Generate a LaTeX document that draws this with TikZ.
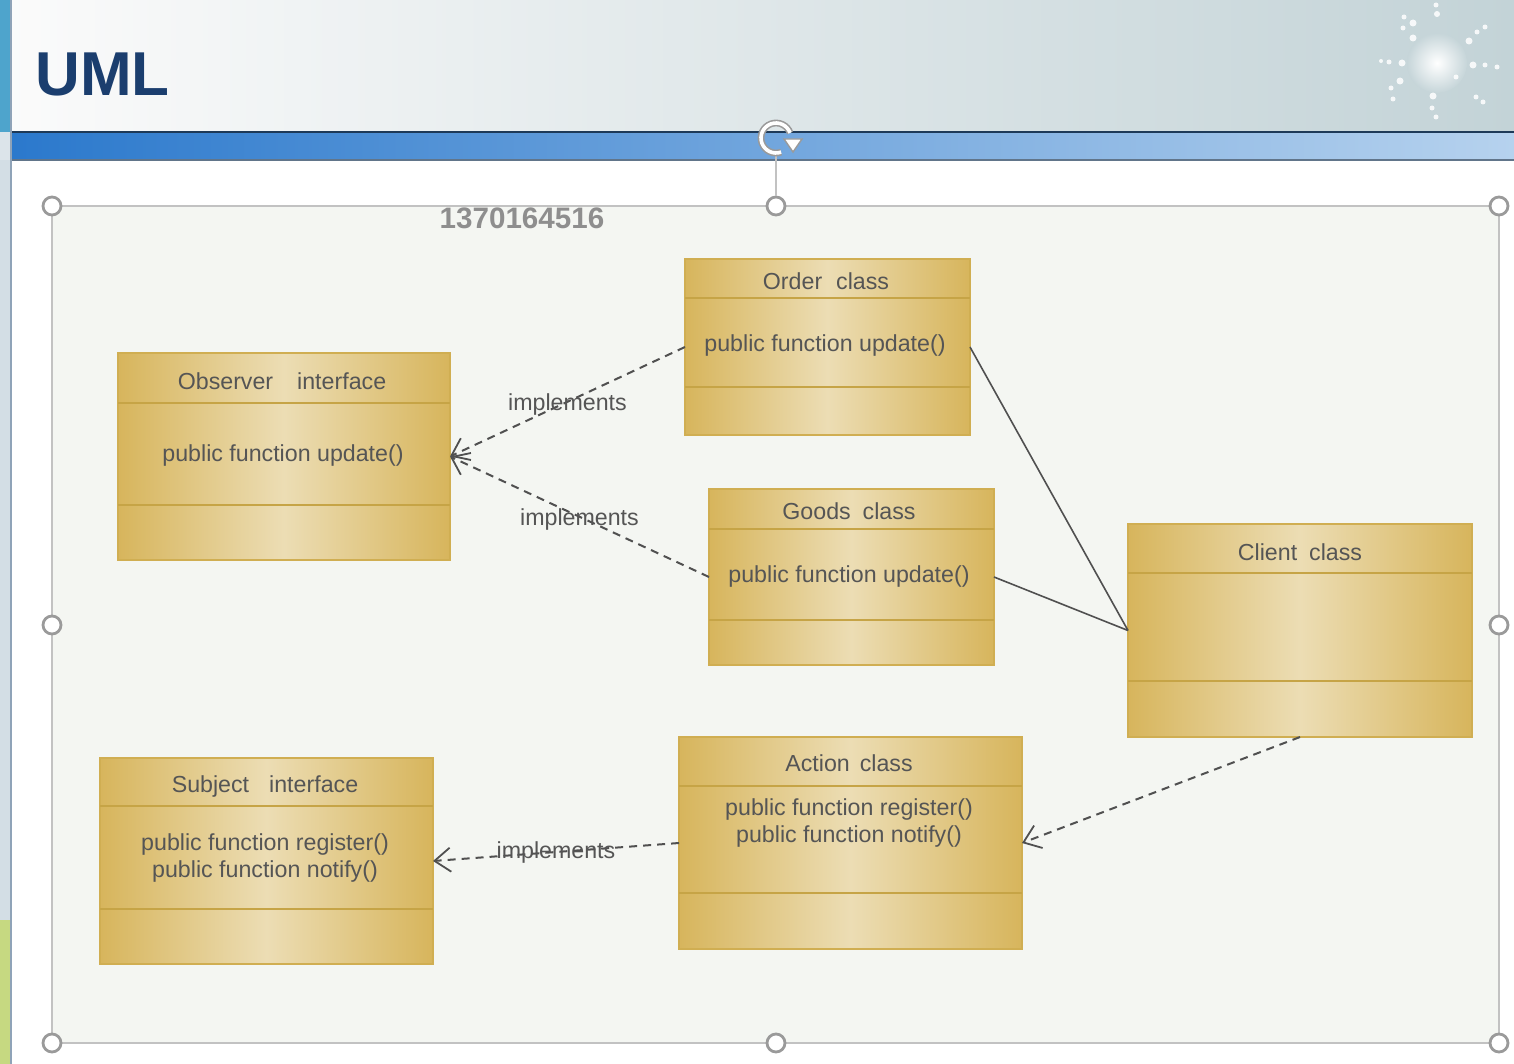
\documentclass[tikz,border=0pt]{standalone}
\usepackage{fontspec}
\setmainfont{Liberation Sans}
\newfontfamily\titlefont{Liberation Sans}
\usetikzlibrary{arrows.meta}

\definecolor{hdrL}{HTML}{FBFBFB}
\definecolor{hdrM}{HTML}{EDF0F0}
\definecolor{hdrR}{HTML}{C3D3D7}
\definecolor{bandL}{HTML}{2A78CC}
\definecolor{bandR}{HTML}{B6D2EE}
\definecolor{bandline}{HTML}{1E3A58}
\definecolor{navy}{HTML}{1B3E6E}
\definecolor{stripblue}{HTML}{4EA4CC}
\definecolor{stripgray}{HTML}{D3DEE5}
\definecolor{stripgreen}{HTML}{C6D981}
\definecolor{stripline}{HTML}{8FA3B8}
\definecolor{canvas}{HTML}{F4F6F2}
\definecolor{framegray}{HTML}{C2C2C2}
\definecolor{handlegray}{HTML}{9A9A9A}
\definecolor{boxgold}{HTML}{D7B55C}
\definecolor{boxlight}{HTML}{ECDDB4}
\definecolor{boxedge}{HTML}{D0AE52}
\definecolor{divgold}{HTML}{C6A446}
\definecolor{txtgray}{HTML}{555555}
\definecolor{linegray}{HTML}{505050}
\definecolor{markgray}{HTML}{8E8E8E}

% one UML class: name, x1, y1, x2, y2, first divider, second divider
\newcommand\classbox[7]{%
  \node[umlbox, minimum width={(#4-#2)*0.5pt}, minimum height={(#5-#3)*0.5pt}]
    (#1) at ({(#2+#4)/2},{(#3+#5)/2}) {};
  \draw[divider] (#2,#6) -- (#4,#6);
  \draw[divider] (#2,#7) -- (#4,#7);
}

\begin{document}
\begin{tikzpicture}[x=0.5pt,y=-0.5pt,
  umlbox/.style={draw=boxedge, line width=0.6pt, left color=boxgold,
    right color=boxgold, middle color=boxlight, inner sep=0pt, outer sep=0pt},
  divider/.style={draw=divgold, line width=0.8pt},
  txt/.style={text=txtgray, font=\fontsize{11.6}{13.6}\selectfont, inner sep=0pt,
    align=center},
  lbl/.style={txt, text=txtgray},
  dep/.style={draw=linegray, line width=1pt, dash pattern=on 4pt off 3pt,
    -{Straight Barb[length=8pt,width=12pt,line width=0.9pt]}},
  assoc/.style={draw=linegray, line width=0.8pt},
  handle/.style={circle, draw=handlegray, fill=white, line width=1.4pt,
    minimum size=9pt, inner sep=0pt},
  sundot/.style={fill=white, opacity=0.85}
]
\useasboundingbox (0,0) rectangle (1514,1064);

% page background and header
\fill[white] (0,0) rectangle (1514,1064);
\shade[left color=hdrL, middle color=hdrM, right color=hdrR] (0,0) rectangle (1514,132);
\shade[left color=bandL, right color=bandR] (0,132) rectangle (1514,160);
\draw[bandline, line width=1pt] (0,132) -- (1514,132);
\draw[bandline!70, line width=0.6pt] (0,160) -- (1514,160);

% left edge strip
\fill[stripblue] (0,0) rectangle (10,132);
\fill[stripgray!80] (0,132) rectangle (10,160);
\fill[stripgray] (0,160) rectangle (10,920);
\fill[stripgreen] (0,920) rectangle (10,1064);
\draw[stripline, line width=0.8pt] (11,0) -- (11,1064);

% sun ornament
\shade[inner color=white, outer color=hdrR!95!white] (1437,63) circle (30);
\foreach \px/\py/\r in {1436/5/2.5,1437/14/3,1404/17/2.5,1413/23/3.5,1403/28/2.5,
  1413/38/3.5,1477/32/2.5,1485/27/2.5,1469/41/3.5,1381/61/2,1389/62/2.5,1402/63/3.5,
  1473/65/3.5,1485/65/2.5,1497/67/2.5,1400/81/3.5,1391/88/2.5,1393/99/2.5,1456/77/2.5,
  1433/96/3.5,1432/108/2.5,1436/117/2.5,1476/97/2.5,1483/102/2.5}
  \fill[sundot] (\px,\py) circle (\r);

% title
\node[text=navy, font=\titlefont\fontsize{31}{36}\selectfont\bfseries, anchor=west,
  inner sep=0pt] (title) at (35,74) {UML};

% selection frame around the diagram
\draw[framegray, line width=1.3pt, fill=canvas] (52,206) rectangle (1499,1043);
\coordinate (rotbase) at (776,152);
\node[handle] (hTM) at (776,206) {};
\draw[framegray, line width=1.1pt] (rotbase) -- (hTM);
\foreach \hx/\hy/\hn in {52/206/hTL,1499/206/hTR,52/625/hML,1499/625/hMR,
  52/1043/hBL,776/1043/hBM,1499/1043/hBR}
  \node[handle] (\hn) at (\hx,\hy) {};

% rotation handle
\draw[handlegray, line width=3.4pt] (776,138) ++(70:15) arc[start angle=70, delta angle=270, radius=15];
\draw[white, line width=1.8pt] (776,138) ++(70:15) arc[start angle=70, delta angle=270, radius=15];
\fill[white, draw=handlegray, line width=0.7pt] (784,139) -- (802,139) -- (793,152) -- cycle;

% stamp text
\node[text=markgray, font=\titlefont\fontsize{14.8}{17}\selectfont\bfseries, inner sep=0pt]
  (stamp) at (522,218) {1370164516};

% classes
\classbox{observer}{118}{353}{450}{560}{403}{505}
\classbox{order}{685}{259}{970}{435}{298}{387}
\classbox{goods}{709}{489}{994}{665}{529}{620}
\classbox{client}{1128}{524}{1472}{737}{573}{681}
\classbox{subject}{100}{758}{433}{964}{806}{909}
\classbox{action}{679}{737}{1022}{949}{786}{893}

% class texts
\node[txt] (observer-t) at (282,381) {Observer\hspace{12pt}interface};
\node[txt] (observer-m) at (283,455) {public function update()};
\node[txt] (order-t) at (826,281) {Order\hspace{7pt}class};
\node[txt] (order-m) at (825,346) {public function update()};
\node[txt] (goods-t) at (849,511) {Goods\hspace{6pt}class};
\node[txt] (goods-m) at (849,576) {public function update()};
\node[txt] (client-t) at (1300,552) {Client\hspace{6pt}class};
\node[txt] (subject-t) at (265,786) {Subject\hspace{10pt}interface};
\node[txt] (subject-m) at (265,858) {public function register()\\public function notify()};
\node[txt] (action-t) at (849,763) {Action\hspace{5pt}class};
\node[txt] (action-m) at (849,823) {public function register()\\public function notify()};

% relations
\draw[dep] (order.west) -- node[lbl, pos=0.5, yshift=-1.5pt] (impl1) {implements} (observer.east);
\draw[dep] (goods.west) -- node[lbl, pos=0.5, yshift=-1.5pt] (impl2) {implements} (observer.east);
\draw[dep] (action.west) -- node[lbl, pos=0.5] (impl3) {implements} (subject.east);
\draw[dep] (client.south) -- (action.east);
\draw[assoc] (order.east) -- (client.west);
\draw[assoc] (goods.east) -- (client.west);
\end{tikzpicture}
\end{document}
